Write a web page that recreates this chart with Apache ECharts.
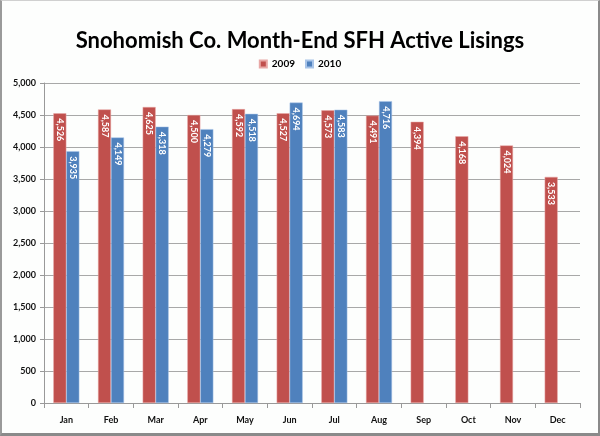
<!DOCTYPE html>
<html><head><meta charset="utf-8">
<script src="https://cdn.jsdelivr.net/npm/echarts@6/dist/echarts.min.js"></script>
<style>
html,body{margin:0;padding:0;background:#fff;}
#frame{position:absolute;left:0;top:0;width:596px;height:432px;border-left:2px solid #9a9a9a;border-top:1px solid #d0d0d0;border-right:2px solid #8a8a8a;border-bottom:3px solid #8a8a8a;box-sizing:content-box;}
#c{width:596px;height:432px;background:#fdfefd;}
</style></head>
<body><div id="frame"><div id="c"></div></div>
<script>
const categories = ['Jan','Feb','Mar','Apr','May','Jun','Jul','Aug','Sep','Oct','Nov','Dec'];
const seriesNames = ['2009','2010'];
const values2009 = [4526,4587,4625,4500,4592,4527,4573,4491,4394,4168,4024,3533];
const values2010 = [3935,4149,4318,4279,4518,4694,4583,4716,null,null,null,null];

const chart = echarts.init(document.getElementById('c'));
const fmt = v => v.toLocaleString('en-US');
const lbl = {
  show: true, position: 'insideTop', rotate: -90, align: 'left', verticalAlign: 'middle',
  distance: 5, color: '#fff', fontSize: 9, fontWeight: 'bold', fontFamily: 'Lato',
  formatter: p => fmt(p.value)
};
chart.setOption({
  animation: false,
  textStyle: {fontFamily: 'Lato'},
  title: {text: 'Snohomish Co. Month-End SFH Active Lisings', left: 'center', top: 24,
    textStyle: {fontSize: 22, fontWeight: 'bold', color: '#000', fontFamily: 'Lato'}},
  legend: {data: seriesNames, top: 53, left: 'center', itemWidth: 7, itemHeight: 7, itemGap: 10,
    icon: 'rect', textStyle: {fontSize: 10, fontWeight: 'bold', color: '#000'}},
  grid: {left: 42, right: 18, top: 82, bottom: 30, containLabel: false},
  xAxis: {type: 'category', data: categories,
    axisLine: {lineStyle: {color: '#999'}},
    axisTick: {show: true, length: 5, lineStyle: {color: '#999'}},
    axisLabel: {fontSize: 9, fontWeight: 'bold', color: '#111', margin: 13}},
  yAxis: {type: 'value', min: 0, max: 5000, interval: 500,
    axisLine: {show: true, lineStyle: {color: '#999'}},
    axisTick: {show: true, length: 4, lineStyle: {color: '#999'}},
    splitLine: {lineStyle: {color: '#a8a8a8'}},
    axisLabel: {fontSize: 9, fontWeight: 'bold', color: '#111', margin: 8, formatter: v => fmt(v)}},
  series: [
    {name: '2009', type: 'bar', data: values2009, barWidth: 13, barGap: '0%',
     itemStyle: {color: '#C0504D', borderColor: '#e8a8a6', borderWidth: 0.5}, label: lbl},
    {name: '2010', type: 'bar', data: values2010, barWidth: 13, barGap: '0%',
     itemStyle: {color: '#4F81BD', borderColor: '#a8c4e8', borderWidth: 0.5}, label: lbl}
  ]
});
</script></body></html>
